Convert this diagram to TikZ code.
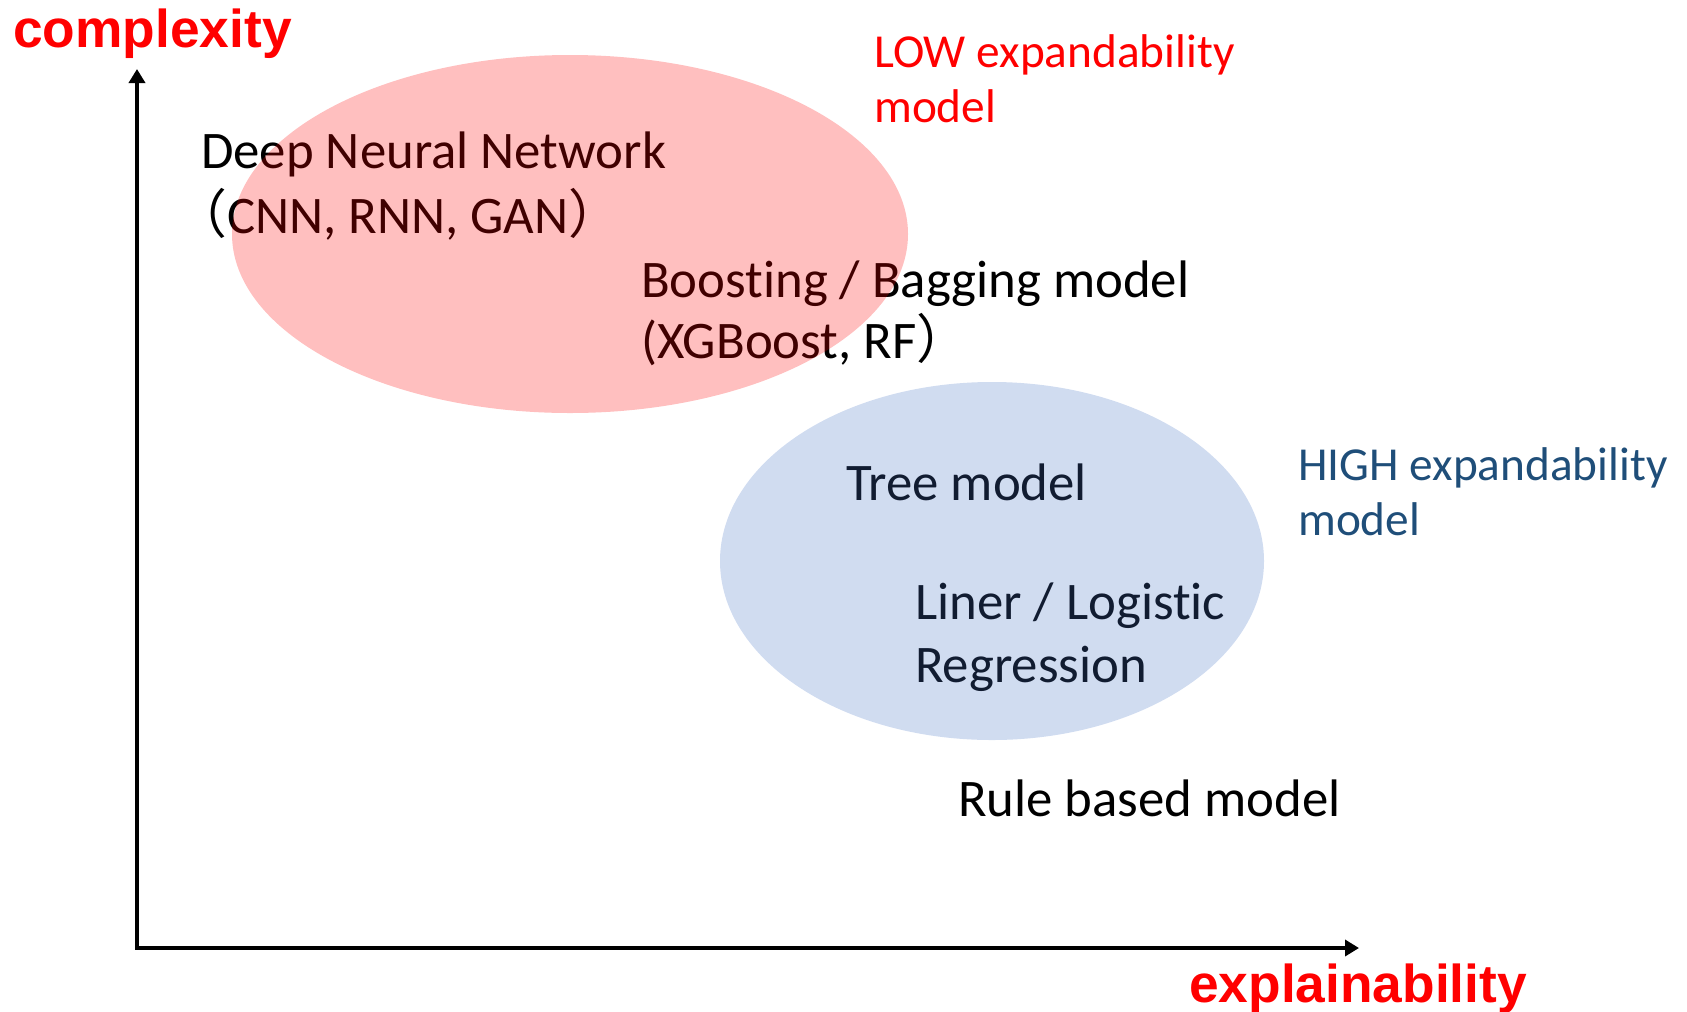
\documentclass[tikz,border=0pt]{standalone}
\usepackage{fontspec}
\setmainfont[Ligatures=NoCommon]{Carlito}
\newfontfamily\cjkfont{Noto Sans CJK JP}
\newfontfamily\axisfont{Liberation Sans}
\usetikzlibrary{arrows.meta}
\definecolor{lowred}{HTML}{FF0000}
\definecolor{highblue}{HTML}{1F4E79}
\definecolor{ellblue}{HTML}{4472C4}
\newcommand{\nolig}{\kern0pt }
\begin{document}
\begin{tikzpicture}[x=1bp,y=-1bp,
  lbl/.style={anchor=base west, inner sep=0pt, text=black, font=\fontsize{53}{64}\selectfont},
  sidelbl/.style={anchor=base west, inner sep=0pt, font=\fontsize{47.5}{56}\selectfont},
  axlbl/.style={anchor=base west, inner sep=0pt, text=lowred, font=\axisfont\bfseries\fontsize{53.5}{60}\selectfont},
  axisline/.style={line width=4bp, line join=miter, {Triangle[length=14bp,width=16bp]}-{Triangle[length=14bp,width=16bp]}},
  blob/.style={fill opacity=0.25}
]
\useasboundingbox (0,0) rectangle (1687,1011);
% axes
\coordinate (ytip) at (137,69);
\coordinate (orig) at (137,948);
\coordinate (xtip) at (1359,948);
\draw[axisline] (ytip) -- (orig) -- (xtip);
\node[axlbl] (ylab) at (13,47) {complexity};
\node[axlbl] (xlab) at (1189,1002) {explainability};
% side labels
\node[sidelbl, text=lowred] (low1) at (874,67) {LOW expandability};
\node[sidelbl, text=lowred] (low2) at (874,122) {model};
\node[sidelbl, text=highblue] (high1) at (1298,480) {HIGH expandability};
\node[sidelbl, text=highblue] (high2) at (1298,535) {model};
% model labels
\node[lbl] (dnn1) at (201,168) {Deep Neural Network};
\node[lbl] (dnn2) at (174,233) {{\cjkfont （}CNN, RNN, GAN{\cjkfont ）}};
\node[lbl] (boost1) at (641,297) {Boost\nolig ing / Bagging model};
\node[lbl] (boost2) at (641,358) {(XGBoost, RF{\cjkfont ）}};
\node[lbl] (tree) at (846,500) {Tree model};
\node[lbl] (lin1) at (915,619) {Liner / Logist\nolig ic};
\node[lbl] (lin2) at (915,682) {Regression};
\node[lbl] (rule) at (958,816) {Rule based model};
% translucent regions drawn over the text
\fill[lowred, blob] (570,234) ellipse [x radius=338bp, y radius=179bp];
\fill[ellblue, blob] (992,561) ellipse [x radius=272bp, y radius=179bp];
\end{tikzpicture}
\end{document}
